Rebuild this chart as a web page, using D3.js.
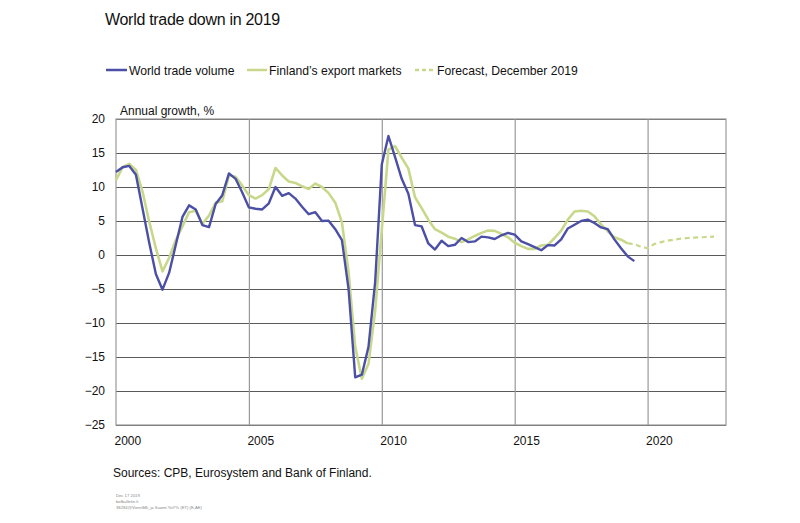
<!DOCTYPE html>
<html>
<head>
<meta charset="utf-8">
<script src="https://cdn.jsdelivr.net/npm/d3@7"></script>
<style>
  html, body { margin: 0; padding: 0; background: #fff; }
  svg { display: block; font-family: Arial, "Liberation Sans", sans-serif; }
</style>
</head>
<body>
<svg id="chart" width="800" height="523"></svg>
<script>
// ---- Data (quarterly, starting 2000Q1) ----
const startYear = 2000;
const worldTrade = [12.2, 12.9, 13.1, 11.8, 6.8, 1.8, -2.8, -5.1, -2.6, 1.5, 5.6, 7.3, 6.7, 4.4, 4.1, 7.5,
  8.8, 12.0, 11.2, 9.2, 7.0, 6.8, 6.7, 7.6, 10.0, 8.7, 9.1, 8.3, 7.1, 6.0, 6.3, 5.0,
  5.05, 3.8, 2.2, -5.0, -18.0, -17.6, -13.5, -4.0, 13.3, 17.5, 14.4, 11.2, 9.0, 4.4, 4.2, 1.7,
  0.8, 2.1, 1.3, 1.5, 2.5, 1.9, 2.0, 2.7, 2.6, 2.35, 2.9, 3.25, 3.0, 2.0, 1.6, 1.15,
  0.7, 1.45, 1.4, 2.3, 3.9, 4.45, 5.0, 5.2, 4.7, 4.05, 3.8, 2.3, 1.0, -0.2, -0.9];
const exportMarkets = [11.0, 12.9, 13.4, 12.5, 9.3, 4.9, 1.0, -2.4, -0.4, 2.2, 4.2, 6.3, 6.5, 4.6, 5.8, 7.7,
  7.9, 11.7, 11.5, 10.2, 8.8, 8.3, 8.8, 9.7, 12.8, 11.7, 10.8, 10.6, 10.1, 9.7, 10.5, 10.0,
  9.1, 7.7, 4.8, -2.5, -13.5, -18.2, -16.0, -8.2, 3.7, 15.5, 16.0, 14.3, 12.7, 8.5, 6.9, 5.2,
  3.8, 3.3, 2.7, 2.4, 1.9, 2.3, 2.8, 3.25, 3.6, 3.55, 3.1, 2.6, 1.8, 1.3, 0.9, 0.9,
  1.4, 1.5, 2.5, 3.6, 5.2, 6.4, 6.5, 6.4, 5.7, 4.5, 3.5, 2.6, 2.25, 1.7];
const forecastStartIndex = 77;
const forecast = [1.7, 1.6, 1.2, 1.0, 1.6, 1.9, 2.1, 2.25, 2.4, 2.5, 2.55, 2.6, 2.65, 2.7];

const yTicks = [20, 15, 10, 5, 0, -5, -10, -15, -20, -25];
const xLabelYears = [2000, 2005, 2010, 2015, 2020];
const xGridYears = [2005, 2010, 2015, 2020];
const seriesNames = ["World trade volume", "Finland’s export markets", "Forecast, December 2019"];
const title = "World trade down in 2019";
const yAxisTitle = "Annual growth, %";
const sourceText = "Sources: CPB, Eurosystem and Bank of Finland.";
const footLines = ["Dec 17 2019", "bofbulletin.fi", "38284@ViennMk_ja  Suomi YoY% (ET)  (E,AE)"];

// ---- Styles ----
const blue = "#4b4fa6";
const green = "#c8d88b";

const svg = d3.select("#chart");
const pLeft = 116, pRight = 726, pTop = 119, pBottom = 425;

const x = d3.scaleLinear().domain([2000, 2022.95]).range([pLeft, pRight]);
const y = d3.scaleLinear().domain([-25, 20]).range([pBottom, pTop]);

const toPts = (arr, offset) => arr.map((v, i) => ({ t: startYear + (i + offset) / 4, v }));

// Title
svg.append("text").attr("x", 105).attr("y", 25)
  .attr("font-size", 16).attr("letter-spacing", -0.3).attr("fill", "#111").text(title);

// Legend
const legend = [
  { name: seriesNames[0], color: blue, dash: null, x1: 106, x2: 127, tx: 129 },
  { name: seriesNames[1], color: green, dash: null, x1: 247, x2: 267, tx: 269 },
  { name: seriesNames[2], color: green, dash: "4,3", x1: 415, x2: 434, tx: 437 }
];
legend.forEach(l => {
  svg.append("line").attr("x1", l.x1).attr("x2", l.x2).attr("y1", 70).attr("y2", 70)
    .attr("stroke", l.color).attr("stroke-width", 2.5).attr("stroke-dasharray", l.dash);
  svg.append("text").attr("x", l.tx).attr("y", 74.5).attr("font-size", 12.2)
    .attr("fill", "#111").text(l.name);
});

// Y axis title
svg.append("text").attr("x", 120).attr("y", 115).attr("font-size", 12)
  .attr("fill", "#111").text(yAxisTitle);

// Horizontal gridlines + y labels
const yAxis = d3.axisLeft(y).tickValues(yTicks).tickSize(-(pRight - pLeft)).tickPadding(11)
  .tickFormat(d3.format("d"));
const gy = svg.append("g").attr("transform", `translate(${pLeft},0)`).call(yAxis);
gy.select(".domain").remove();
gy.selectAll(".tick line").attr("stroke", "#5a5a5a").attr("stroke-width", 1);
gy.selectAll(".tick text").attr("font-size", 12).attr("fill", "#111")
  .attr("font-family", "Arial, 'Liberation Sans', sans-serif");

// Vertical gridlines
const xGrid = d3.axisBottom(x).tickValues(xGridYears).tickSize(-(pBottom - pTop)).tickFormat("");
const gx = svg.append("g").attr("transform", `translate(0,${pBottom})`).call(xGrid);
gx.select(".domain").remove();
gx.selectAll(".tick line").attr("stroke", "#999").attr("stroke-width", 1.2);

// Frame
svg.append("rect").attr("x", pLeft).attr("y", pTop).attr("width", pRight - pLeft).attr("height", pBottom - pTop)
  .attr("fill", "none").attr("stroke", "#999").attr("stroke-width", 1.2);

// X labels
const xLab = d3.axisBottom(x).tickValues(xLabelYears).tickSize(0).tickPadding(0).tickFormat(d3.format("d"));
const gl = svg.append("g").attr("transform", `translate(0,${pBottom})`).call(xLab);
gl.select(".domain").remove();
gl.selectAll(".tick text").attr("font-size", 12).attr("fill", "#111")
  .attr("text-anchor", "start").attr("dx", -2).attr("dy", 0).attr("y", 20)
  .attr("font-family", "Arial, 'Liberation Sans', sans-serif");

// Lines
const line = d3.line().x(d => x(d.t)).y(d => y(d.v));
svg.append("path").datum(toPts(forecast, forecastStartIndex)).attr("d", line)
  .attr("fill", "none").attr("stroke", green).attr("stroke-width", 2.2).attr("stroke-dasharray", "5,3.5");
svg.append("path").datum(toPts(exportMarkets, 0)).attr("d", line)
  .attr("fill", "none").attr("stroke", green).attr("stroke-width", 2.6).attr("stroke-linejoin", "round");
svg.append("path").datum(toPts(worldTrade, 0)).attr("d", line)
  .attr("fill", "none").attr("stroke", blue).attr("stroke-width", 2.4).attr("stroke-linejoin", "round");

// Sources
svg.append("text").attr("x", 113).attr("y", 477).attr("font-size", 12).attr("fill", "#111").text(sourceText);

// Footnote lines
footLines.forEach((t, i) => {
  svg.append("text").attr("x", 116).attr("y", 496.5 + i * 6).attr("font-size", 4.2)
    .attr("fill", "#888").text(t);
});
</script>
</body>
</html>
